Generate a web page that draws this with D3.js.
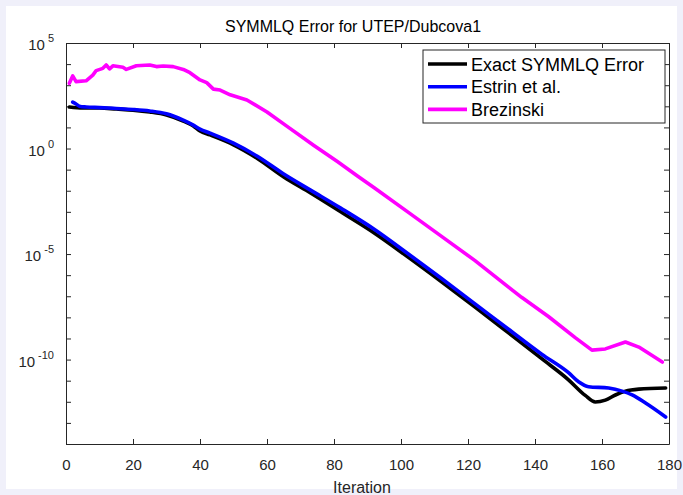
<!DOCTYPE html>
<html><head><meta charset="utf-8">
<script src="https://cdn.jsdelivr.net/npm/d3@7/dist/d3.min.js"></script>
<style>
html,body{margin:0;padding:0;background:#f0f0fa;}
svg{display:block;font-family:"Liberation Sans",Arial,Helvetica,sans-serif;}
</style></head><body><svg id="c" width="683" height="495"></svg>
<script>
// ---- data (iteration, error value) ----
const exactIter = [1,5,10,15,20,25,30,35,38,40,43,50,57,65,73,82,92,102,112,122,132,142,150,155,158,161,164,167,171,179];
const exactVal  = [93,83,83,74,66,54,39,20,11.7,6.8,4.4,1.5,0.35,0.045,7.8e-3,1.0e-3,1.0e-4,7.4e-6,5.0e-7,3.2e-8,1.9e-9,1.1e-10,1.1e-11,2.0e-12,9.8e-13,1.2e-12,2.1e-12,3.2e-12,4.0e-12,4.5e-12];

const estrinIter = [2,3,4,6,10,15,20,25,30,35,38,40,43,50,57,65,73,82,92,102,112,122,132,142,150,153,156,162,166,169,173,179];
const estrinVal  = [158,129,102,93,87,79,71,60,44,22,12.9,8.3,5.4,1.8,0.44,0.062,0.0107,1.5e-3,1.5e-4,1.07e-5,7.1e-7,4.5e-8,2.8e-9,1.8e-10,2.4e-11,8.9e-12,5.2e-12,4.5e-12,3.2e-12,2.1e-12,8.7e-13,1.9e-13];

const brezIter = [1,2,3,6,8,9,11,12,13,14,17,18,21,25,27,29,32,35,37,40,42,44,46,49,54,60,66,74,81,87,92,102,112,122,132,136,144,152,157,161,167,171,178];
const brezVal  = [1230,2750,1480,1620,3020,4900,6300,9100,5900,8300,7100,5600,8300,9100,7600,8100,7600,5600,3900,1780,1320,650,590,350,200,54,11.2,1.4,0.24,0.05,0.014,1.0e-3,7.1e-5,5.0e-6,2.8e-7,8.9e-8,1.1e-8,1.1e-9,2.8e-10,3.2e-10,6.8e-10,3.9e-10,7.6e-11];

const seriesNames = ["Exact SYMMLQ Error","Estrin et al.","Brezinski"];
const seriesColors = ["#000000","#0000ff","#ff00ff"];
const xTicks = [0,20,40,60,80,100,120,140,160,180];
const yTickExps = [-14,-13,-12,-11,-10,-9,-8,-7,-6,-5,-4,-3,-2,-1,0,1,2,3,4,5];
const yLabelExps = [5,0,-5,-10];
const titleText = "SYMMLQ Error for UTEP/Dubcova1";
const xLabelText = "Iteration";

// ---- layout ----
const svg = d3.select("#c");
const L = 66, R = 669, T = 43, B = 444;
const axisColor = "#262626";

svg.append("rect").attr("x",6).attr("y",6).attr("width",671).attr("height",483).attr("fill","#ffffff");

const x = d3.scaleLinear().domain([0,180]).range([L,R]);
const y = d3.scaleLog().domain([1e-14,1e5]).range([B,T]);

// axes
const yVals = yTickExps.map(e => Math.pow(10,e));
const gL = svg.append("g").attr("transform",`translate(${L},0)`)
  .call(d3.axisLeft(y).tickValues(yVals).tickSizeInner(-5).tickSizeOuter(0).tickFormat(""));
const gR = svg.append("g").attr("transform",`translate(${R},0)`)
  .call(d3.axisRight(y).tickValues(yVals).tickSizeInner(-5).tickSizeOuter(0).tickFormat(""));
const gB = svg.append("g").attr("transform",`translate(0,${B})`)
  .call(d3.axisBottom(x).tickValues(xTicks).tickSizeInner(-5).tickSizeOuter(0).tickFormat(d3.format("d")));
const gT = svg.append("g").attr("transform",`translate(0,${T})`)
  .call(d3.axisTop(x).tickValues(xTicks).tickSizeInner(-5).tickSizeOuter(0).tickFormat(""));
[gL,gR,gB,gT].forEach(g => {
  g.select(".domain").attr("stroke",axisColor).attr("stroke-width",1);
  g.selectAll(".tick line").attr("stroke",axisColor);
});
gB.selectAll(".tick text").attr("fill",axisColor).attr("font-size",15)
  .attr("font-family","Liberation Sans, Arial, sans-serif").attr("y",15);

// y labels with superscripts
const yl = svg.append("g");
yLabelExps.forEach(e => {
  const t = yl.append("text").attr("x",54).attr("y",y(Math.pow(10,e))+7)
    .attr("text-anchor","end").attr("fill",axisColor).attr("font-size",15);
  t.append("tspan").text("10");
  t.append("tspan").attr("dx",3).attr("dy",-8).attr("font-size",11).text(String(e));
});

// lines
const series = [
  {it: exactIter, v: exactVal, curve: d3.curveMonotoneX},
  {it: estrinIter, v: estrinVal, curve: d3.curveMonotoneX},
  {it: brezIter, v: brezVal, curve: d3.curveLinear}
];
svg.append("clipPath").attr("id","pc").append("rect")
  .attr("x",L).attr("y",T).attr("width",R-L).attr("height",B-T);
series.forEach((s,i) => {
  const pts = s.it.map((d,j) => [d, s.v[j]]);
  const line = d3.line().x(d => x(d[0])).y(d => y(d[1])).curve(s.curve);
  svg.append("path").datum(pts).attr("d",line).attr("fill","none")
    .attr("stroke",seriesColors[i]).attr("stroke-width",3.6)
    .attr("stroke-linejoin","round").attr("stroke-linecap","round")
    .attr("clip-path","url(#pc)");
});

// title and x label
svg.append("text").attr("x",353).attr("y",32).attr("text-anchor","middle")
  .attr("font-size",16).attr("fill","#000").text(titleText);
svg.append("text").attr("x",362).attr("y",493).attr("text-anchor","middle")
  .attr("font-size",16).attr("fill",axisColor).text(xLabelText);

// legend
const lg = svg.append("g");
lg.append("rect").attr("x",423).attr("y",50).attr("width",242).attr("height",73)
  .attr("fill","#fff").attr("stroke",axisColor).attr("stroke-width",1);
seriesNames.forEach((n,i) => {
  const yy = 64 + i*22.7;
  lg.append("line").attr("x1",428).attr("x2",467).attr("y1",yy).attr("y2",yy)
    .attr("stroke",seriesColors[i]).attr("stroke-width",3.6);
  lg.append("text").attr("x",471).attr("y",yy+6.5).attr("font-size",18)
    .attr("fill","#000").text(n);
});
</script></body></html>
